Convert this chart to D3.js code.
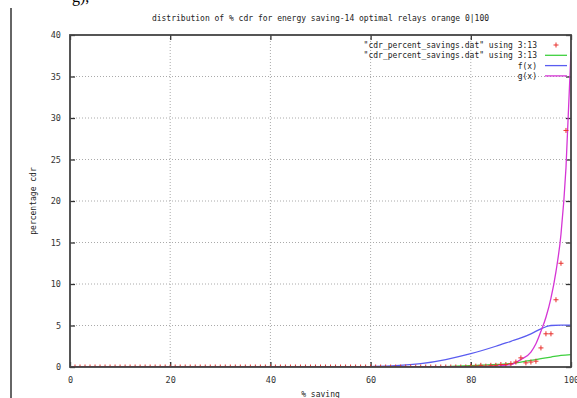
<!DOCTYPE html>
<html>
<head>
<meta charset="utf-8">
<script src="https://cdn.jsdelivr.net/npm/d3@7"></script>
<style>
  html, body { margin: 0; padding: 0; background: #fff; }
  svg { display: block; }
  text { font-family: "DejaVu Sans Mono", monospace; fill: #222; }
</style>
</head>
<body>
<svg id="chart" width="577" height="398"></svg>
<script>
// ---- data -------------------------------------------------------------
const titleText = "distribution of % cdr for energy saving-14 optimal relays orange 0|100";
const xLabel = "% saving";
const yLabel = "percentage cdr";
const xTicks = [0, 20, 40, 60, 80, 100];
const yTicks = [0, 5, 10, 15, 20, 25, 30, 35, 40];

// measured points, column 3 vs column 13 (x = 0..99)
const pointX = d3.range(0, 100);
const pointY = [
  0, 0, 0, 0, 0, 0, 0, 0, 0, 0,
  0, 0, 0, 0, 0, 0, 0, 0, 0, 0,
  0, 0, 0, 0, 0, 0, 0, 0, 0, 0,
  0, 0, 0, 0, 0, 0, 0, 0, 0, 0,
  0, 0, 0, 0, 0, 0, 0, 0, 0, 0,
  0, 0, 0, 0, 0, 0, 0, 0, 0, 0,
  0, 0, 0, 0, 0, 0, 0, 0, 0, 0,
  0, 0, 0, 0, 0, 0, 0, 0, 0, 0,
  0.1, 0.1, 0.2, 0.1, 0.2, 0.2, 0.3, 0.3, 0.4, 0.6,
  1.1, 0.5, 0.6, 0.7, 2.3, 4.0, 4.0, 8.1, 12.5, 28.5
];

// second column pair drawn as a line
const lineX = [0, 60, 70, 75, 80, 85, 88, 90, 92, 94, 96, 98, 100];
const lineY = [0, 0, 0.02, 0.05, 0.15, 0.3, 0.4, 0.6, 0.8, 1.0, 1.2, 1.4, 1.5];

// fitted f(x)
const fX = [0, 55, 60, 65, 70, 75, 80, 85, 88, 90, 92, 94, 95, 96, 98, 100];
const fY = [0, 0, 0.05, 0.15, 0.4, 0.9, 1.6, 2.5, 3.1, 3.5, 4.0, 4.6, 4.85, 5.0, 5.05, 5.05];

// fitted g(x)
const gX = [0, 80, 85, 88, 90, 92, 93, 94, 95, 96, 97, 98, 99, 100];
const gY = [0, 0, 0.1, 0.3, 0.9, 1.8, 2.8, 4.3, 6.0, 8.3, 11.5, 16, 24, 38];

const legendLabels = [
  "\"cdr_percent_savings.dat\" using 3:13",
  "\"cdr_percent_savings.dat\" using 3:13",
  "f(x)",
  "g(x)"
];
const colors = ["#e8302c", "#3fd03f", "#5a5cf0", "#d535d5"];

// ---- layout -----------------------------------------------------------
const W = 577, H = 398;
const plot = { left: 70, right: 571, top: 35, bottom: 367 };

const svg = d3.select("#chart");
const x = d3.scaleLinear().domain([0, 100]).range([plot.left, plot.right]);
const y = d3.scaleLinear().domain([0, 40]).range([plot.bottom, plot.top]);

// page furniture: rule on the left and a clipped line of text above
svg.append("line")
  .attr("x1", 11).attr("x2", 11).attr("y1", 8).attr("y2", H)
  .attr("stroke", "#666").attr("stroke-width", 2);
svg.append("text")
  .attr("x", 72).attr("y", 2)
  .style("font-family", "'Liberation Serif', serif")
  .style("font-size", "16px").style("fill", "#000")
  .text("g),");

// grid
const grid = svg.append("g").attr("stroke", "#aaa").attr("stroke-dasharray", "1,2").attr("stroke-width", 1);
grid.selectAll("line.gx").data(xTicks.filter(d => d > 0 && d < 100)).join("line")
  .attr("x1", d => x(d)).attr("x2", d => x(d))
  .attr("y1", plot.top).attr("y2", plot.bottom);
grid.selectAll("line.gy").data(yTicks.filter(d => d > 0 && d < 40)).join("line")
  .attr("y1", d => y(d)).attr("y2", d => y(d))
  .attr("x1", plot.left).attr("x2", plot.right);

// axes with inward ticks, mirrored on the opposite sides
const axisStyle = g => {
  g.select(".domain").remove();
  g.selectAll(".tick line").attr("stroke", "#333").attr("stroke-width", 1.3);
  g.selectAll(".tick text").style("font-family", "'DejaVu Sans Mono', monospace")
    .style("font-size", "8.5px").style("fill", "#333");
};
svg.append("g").attr("transform", `translate(0,${plot.bottom})`)
  .call(d3.axisBottom(x).tickValues(xTicks).tickSize(-5).tickPadding(10))
  .call(axisStyle);
svg.append("g").attr("transform", `translate(0,${plot.top})`)
  .call(d3.axisTop(x).tickValues(xTicks).tickSize(-5).tickFormat(""))
  .call(axisStyle);
svg.append("g").attr("transform", `translate(${plot.left},0)`)
  .call(d3.axisLeft(y).tickValues(yTicks).tickSize(-5).tickPadding(9))
  .call(axisStyle);
svg.append("g").attr("transform", `translate(${plot.right},0)`)
  .call(d3.axisRight(y).tickValues(yTicks).tickSize(-5).tickFormat(""))
  .call(axisStyle);

// series
svg.append("clipPath").attr("id", "plotclip").append("rect")
  .attr("x", plot.left).attr("y", plot.top)
  .attr("width", plot.right - plot.left).attr("height", plot.bottom - plot.top);

const lineGen = d3.line().x(d => x(d[0])).y(d => y(d[1])).curve(d3.curveMonotoneX);
const series = svg.append("g").attr("clip-path", "url(#plotclip)");

series.append("path").datum(d3.zip(lineX, lineY))
  .attr("d", lineGen).attr("fill", "none").attr("stroke", colors[1]).attr("stroke-width", 1.3);
series.append("path").datum(d3.zip(fX, fY))
  .attr("d", lineGen).attr("fill", "none").attr("stroke", colors[2]).attr("stroke-width", 1.3);
series.append("path").datum(d3.zip(gX, gY))
  .attr("d", lineGen).attr("fill", "none").attr("stroke", colors[3]).attr("stroke-width", 1.3);

const ms = 2.5;
const marks = series.append("g").attr("stroke", colors[0]).attr("stroke-width", 1);
marks.selectAll("path").data(d3.zip(pointX, pointY)).join("path")
  .attr("d", d => `M${x(d[0]) - ms},${y(d[1])}h${2 * ms}M${x(d[0])},${y(d[1]) - ms}v${2 * ms}`);

// frame
svg.append("rect")
  .attr("x", plot.left).attr("y", plot.top)
  .attr("width", plot.right - plot.left).attr("height", plot.bottom - plot.top)
  .attr("fill", "none").attr("stroke", "#444").attr("stroke-width", 1.8);

// legend
const leg = svg.append("g");
legendLabels.forEach((lab, i) => {
  const ly = 45 + i * 10.3;
  leg.append("text").attr("x", 537).attr("y", ly + 3)
    .attr("text-anchor", "end").style("font-size", "8px").text(lab);
  if (i === 0) {
    leg.append("path")
      .attr("d", `M${556 - ms},${ly}h${2 * ms}M556,${ly - ms}v${2 * ms}`)
      .attr("stroke", colors[0]).attr("stroke-width", 1);
  } else {
    leg.append("line").attr("x1", 545).attr("x2", 567).attr("y1", ly).attr("y2", ly)
      .attr("stroke", colors[i]).attr("stroke-width", 1.3);
  }
});

// titles
svg.append("text").attr("x", (plot.left + plot.right) / 2).attr("y", 21)
  .attr("text-anchor", "middle").style("font-size", "8px").text(titleText);
svg.append("text").attr("x", (plot.left + plot.right) / 2).attr("y", 397)
  .attr("text-anchor", "middle").style("font-size", "8px").text(xLabel);
svg.append("text").attr("transform", `translate(36,${(plot.top + plot.bottom) / 2}) rotate(-90)`)
  .attr("text-anchor", "middle").style("font-size", "8px").text(yLabel);
</script>
</body>
</html>
